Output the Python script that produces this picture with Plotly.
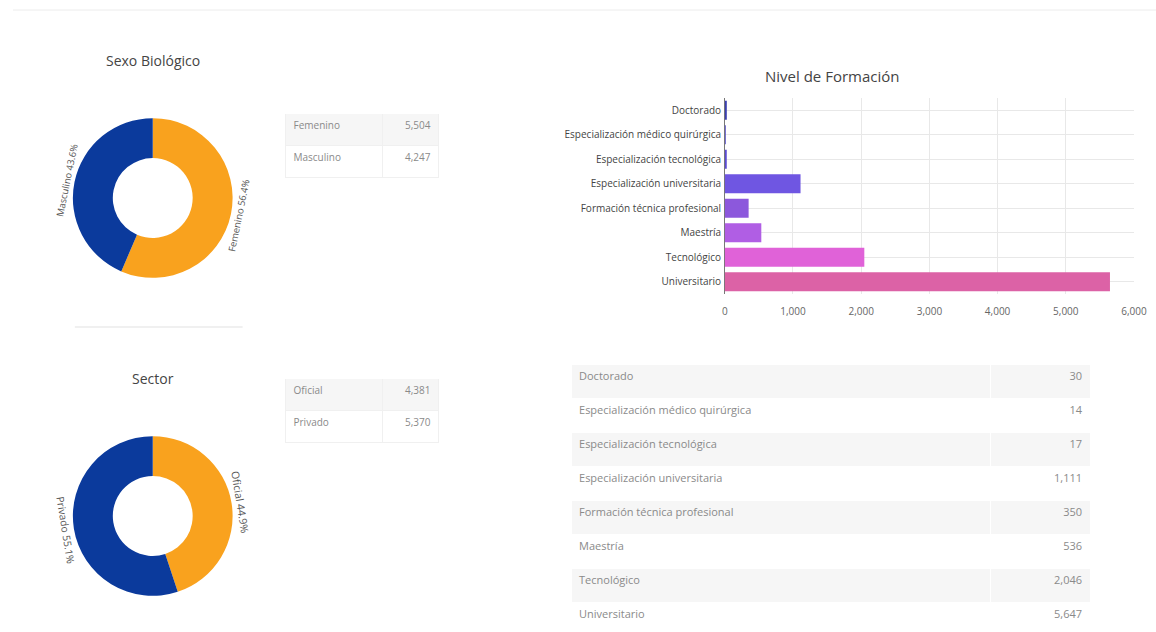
import plotly.graph_objects as go

# reference pixel space
RW, RH = 1156, 632
# browser layout width (the capture is scaled ~0.988 horizontally)
FW, FH = 1170, 632

sexo_labels = ["Femenino", "Masculino"]
sexo_values = [5504, 4247]
sexo_colors = ["#f9a21e", "#0b3a9c"]

sector_labels = ["Oficial", "Privado"]
sector_values = [4381, 5370]
sector_colors = ["#f9a21e", "#0b3a9c"]

nivel_labels = ["Doctorado", "Especialización médico quirúrgica", "Especialización tecnológica",
                "Especialización universitaria", "Formación técnica profesional", "Maestría",
                "Tecnológico", "Universitario"]
nivel_values = [30, 14, 17, 1111, 350, 536, 2046, 5647]
nivel_colors = ["#3a3fb0", "#4a44c4", "#5a4cd4", "#6f56e2", "#8c58dc", "#b05ee4", "#e062d8", "#dc62a6"]

FONT = "Open Sans"
PAD = "\u00a0" * 2


def px(x):
    return min(1, max(0, x / RW))


def py(y):
    return min(1, max(0, 1 - y / RH))


fig = go.Figure()


def donut(labels, values, colors, cx, cy, r):
    fig.add_trace(go.Pie(
        labels=labels, values=values, hole=0.5, sort=False, direction="clockwise",
        marker=dict(colors=colors, line=dict(width=0)),
        textinfo="none", showlegend=False, hoverinfo="label+value+percent",
        domain=dict(x=[px(cx - r), px(cx + r)], y=[py(cy + r), py(cy - r)]),
    ))
    R = r + 24
    fig.add_trace(go.Pie(
        labels=labels, values=values, hole=(r + 1) / R, sort=False, direction="clockwise",
        marker=dict(colors=["rgba(0,0,0,0)"] * len(values), line=dict(width=0)),
        textposition="inside", insidetextorientation="tangential",
        texttemplate=PAD + "%{label} %{percent:.1%}" + PAD,
        textfont=dict(family=FONT, size=10.5, color="#555"),
        showlegend=False, hoverinfo="skip",
        domain=dict(x=[px(cx - R), px(cx + R)], y=[py(cy + R), py(cy - R)]),
    ))


donut(sexo_labels, sexo_values, sexo_colors, 150, 198, 80)
donut(sector_labels, sector_values, sector_colors, 150, 516, 80)


def table(labels, values, x0, x1, y0, row_h, colw, fsize, line_color):
    n = len(labels)
    fills = ["#f6f6f6" if i % 2 == 0 else "#ffffff" for i in range(n)]
    fig.add_trace(go.Table(
        columnwidth=colw,
        header=dict(values=["", ""], height=0.1, fill_color="white", line_color="white",
                    font=dict(size=1, color="white")),
        cells=dict(
            values=[labels, [f"{v:,}" for v in values]],
            align=["left", "right"],
            height=row_h,
            fill_color=[fills, fills],
            line_color=line_color,
            font=dict(family=FONT, size=fsize, color="#8a8a8a"),
        ),
        domain=dict(x=[px(x0), px(x1)], y=[py(y0 + row_h * n + 4), py(y0)]),
    ))


table(sexo_labels, sexo_values, 283, 437, 113, 32, [95, 55], 10, "#f0f0f0")
table(sector_labels, sector_values, 283, 437, 378, 32, [95, 55], 10, "#f0f0f0")
table(nivel_labels, nivel_values, 569, 1089, 364, 34, [420, 100], 11, "#ffffff")

fig.add_trace(go.Bar(
    y=nivel_labels, x=nivel_values, orientation="h",
    marker=dict(color=nivel_colors, line=dict(width=0)),
    showlegend=False, xaxis="x", yaxis="y",
))

fig.update_layout(
    width=FW, height=FH,
    margin=dict(l=0, r=0, t=0, b=0),
    paper_bgcolor="white", plot_bgcolor="white",
    font=dict(family=FONT, color="#444"),
    bargap=0.22,
    xaxis=dict(domain=[px(723), px(1133)], range=[0, 6000], anchor="y",
               tickvals=[0, 1000, 2000, 3000, 4000, 5000, 6000], tickformat=",",
               showgrid=True, gridcolor="#e8e8e8", zeroline=True, zerolinecolor="#777",
               zerolinewidth=1, ticks="", ticklen=0, tickfont=dict(size=10, color="#666"),
               ticklabelstandoff=10, showline=False),
    yaxis=dict(domain=[py(294), py(98)], anchor="x", autorange="reversed",
               categoryorder="array", categoryarray=nivel_labels,
               showgrid=True, gridcolor="#e8e8e8", ticks="", ticklen=4,
               tickfont=dict(size=10, color="#444"), ticksuffix=" "),
    annotations=[
        dict(text="Sexo Biológico", x=px(150), y=py(60), xref="paper", yref="paper",
             xanchor="center", yanchor="middle",
             showarrow=False, font=dict(size=14, color="#444")),
        dict(text="Sector", x=px(150), y=py(378), xref="paper", yref="paper",
             xanchor="center", yanchor="middle",
             showarrow=False, font=dict(size=14, color="#444")),
        dict(text="Nivel de Formación", x=px(831), y=py(76), xref="paper", yref="paper",
             xanchor="center", yanchor="middle",
             showarrow=False, font=dict(size=15, color="#444")),
    ],
    shapes=[
        dict(type="line", xref="paper", yref="paper", x0=px(10), x1=1, y0=py(10), y1=py(10),
             line=dict(color="#ececec", width=1)),
        dict(type="line", xref="paper", yref="paper", x0=px(72), x1=px(240), y0=py(327), y1=py(327),
             line=dict(color="#f0f0f0", width=2)),
    ],
)

fig.write_html(
    "out.html",
    config={"displayModeBar": False},
    post_script=(
        "document.body.style.margin='0';"
        "document.body.style.overflow='hidden';"
        "document.documentElement.style.overflow='hidden';"
    ),
)
